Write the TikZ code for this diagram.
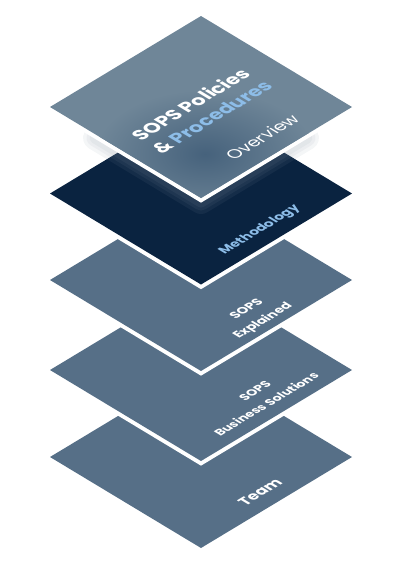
\documentclass[tikz,border=0pt]{standalone}
\usepackage{fontspec}
\setmainfont{Poppins}
\definecolor{topbase}{HTML}{6F8698}
\definecolor{topdark}{HTML}{46627C}
\definecolor{navy}{HTML}{0A2340}
\definecolor{slate}{HTML}{566F87}
\definecolor{lightblue}{HTML}{8DBDE8}
\definecolor{shadowgray}{HTML}{8A98A6}
\newcommand\diam[1]{(201,#1+91) -- (352,#1) -- (201,#1-91) -- (50,#1) -- cycle}
\newcommand\lowerv[1]{(60,#1-6) -- (201,#1-91) -- (342,#1-6)}
\newcommand\shadowv[1]{(95,#1-27) -- (201,#1-91) -- (307,#1-27)}
\tikzset{
  whiteedge/.style={draw=white, line width=8pt, line join=miter},
  iso/.style={cm={0.857,0.515,-0.857,0.515,(0,0)}, inner sep=0pt, text=white},
}
\begin{document}
\begin{tikzpicture}[x=1pt,y=1pt]
\useasboundingbox (0,0) rectangle (400,-568);
% layer 5
\fill[slate] \diam{-457};
% layer 4
\path[whiteedge] \diam{-370};
\fill[slate] \diam{-370};
% layer 3
\path[whiteedge] \diam{-280};
\fill[slate] \diam{-280};
% layer 2
\path[whiteedge] \diam{-193.5};
\fill[navy] \diam{-193.5};
% soft shadow below the top layer
\foreach \w in {24,17,11} {
  \draw[draw=shadowgray, opacity=0.09, line width=\w pt, line join=round, line cap=round, yshift=-4pt] \shadowv{-107};
}
% layer 1
\path[whiteedge] \lowerv{-107};
\fill[topbase] \diam{-107};
\begin{scope}
  \clip \diam{-107};
  \shade[inner color=topdark, outer color=topbase] (205,-154) ellipse (110 and 64);
\end{scope}
% texts
\node[iso, font=\bfseries\fontsize{19}{19}\selectfont] (t1a) at (190,-104) {SOPS Policies};
\node[iso, font=\bfseries\fontsize{19}{19}\selectfont] (t1b) at (212,-117) {\& \textcolor{lightblue}{Procedures}};
\node[iso, font=\fontsize{17}{17}\selectfont] (t1c) at (262,-137) {Overview};
\node[iso, text=lightblue, font=\bfseries\fontsize{13}{13}\selectfont] (t2) at (260,-230) {Methodology};
\node[iso, font=\bfseries\fontsize{12.5}{12.5}\selectfont] (t3a) at (246,-309) {SOPS};
\node[iso, font=\bfseries\fontsize{12.5}{12.5}\selectfont] (t3b) at (263,-321) {Explained};
\node[iso, font=\bfseries\fontsize{12}{12}\selectfont] (t4a) at (255,-391) {SOPS};
\node[iso, font=\bfseries\fontsize{12}{12}\selectfont] (t4b) at (266,-404) {Business\hspace{0.3em}Solutions};
\node[iso, font=\bfseries\fontsize{15}{15}\selectfont] (t5) at (260,-492) {Team};
\end{tikzpicture}
\end{document}
